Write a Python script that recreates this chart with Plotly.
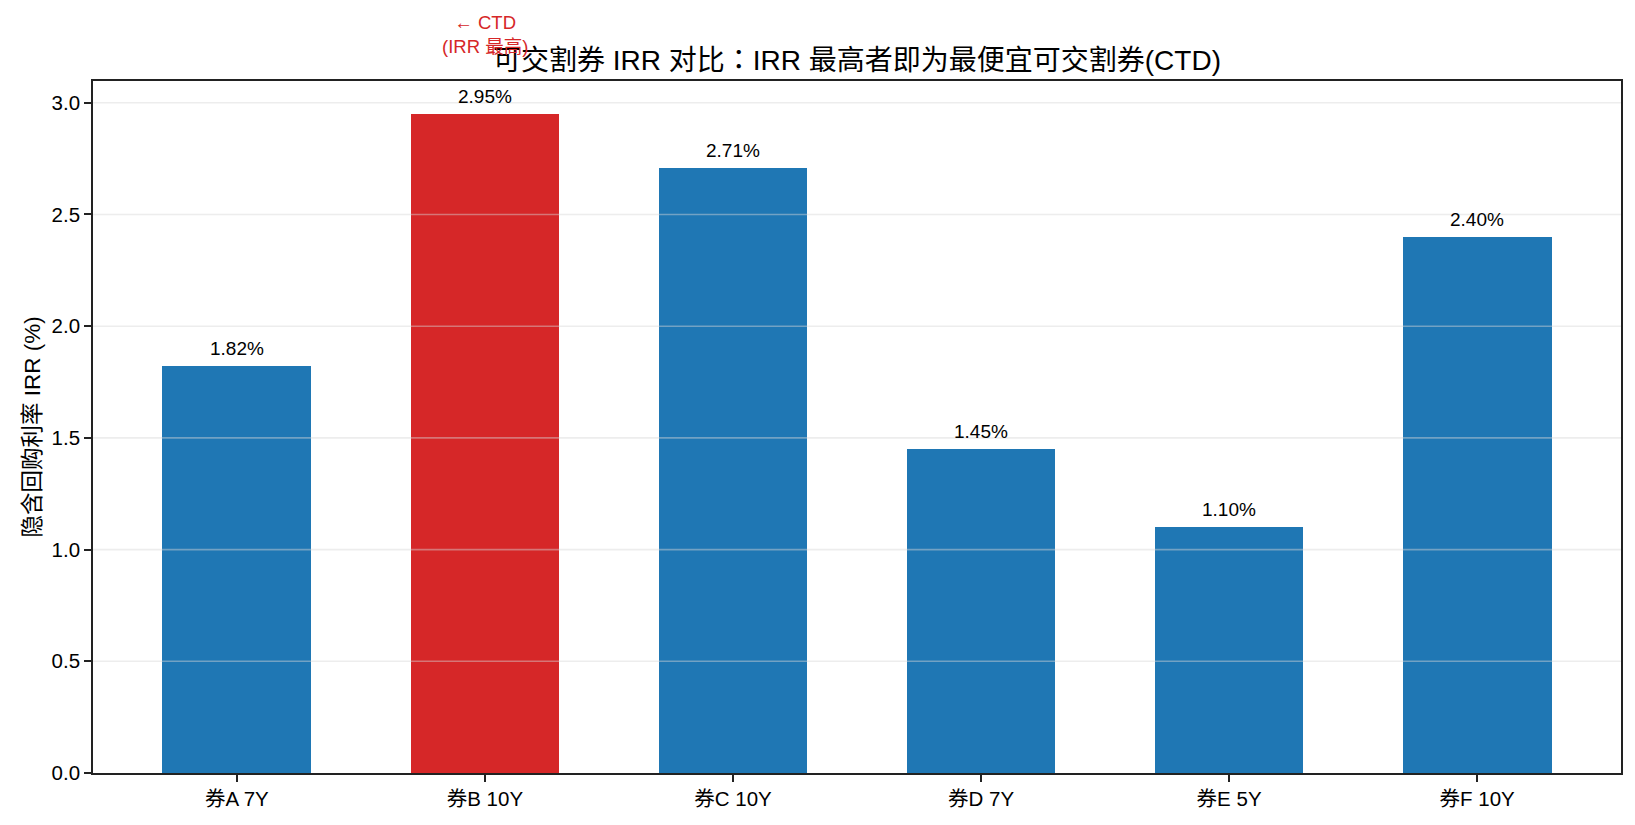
import plotly.graph_objects as go

categories = ["券A 7Y", "券B 10Y", "券C 10Y", "券D 7Y", "券E 5Y", "券F 10Y"]
irr_values = [1.82, 2.95, 2.71, 1.45, 1.10, 2.40]
bar_labels = ["1.82%", "2.95%", "2.71%", "1.45%", "1.10%", "2.40%"]
y_ticks = [0.0, 0.5, 1.0, 1.5, 2.0, 2.5, 3.0]
ctd_index = 1

BLUE = "#1f77b4"
RED = "#d62728"
FONT = "Liberation Sans, Arial, Noto Sans CJK SC, sans-serif"

colors = [RED if i == ctd_index else BLUE for i in range(len(categories))]
xpos = list(range(len(categories)))

fig = go.Figure()
fig.add_trace(go.Bar(
    x=xpos, y=irr_values, width=0.6,
    marker=dict(color=colors, line=dict(width=0)),
    showlegend=False, hoverinfo="skip",
))

# value labels above bars
for xi, yi, lab in zip(xpos, irr_values, bar_labels):
    fig.add_annotation(x=xi, y=yi, text=lab, showarrow=False,
                       yanchor="bottom", yshift=5,
                       font=dict(size=19, color="black", family=FONT))

# CTD annotation
fig.add_annotation(x=ctd_index, y=1.0675, xref="x", yref="paper",
                   text="← CTD<br>(IRR 最高)", showarrow=False,
                   yanchor="middle", align="center",
                   font=dict(size=18.5, color=RED, family=FONT))

# gridlines drawn above bars (as in reference)
for t in y_ticks[1:]:
    fig.add_shape(type="line", xref="paper", yref="y", x0=0, x1=1, y0=t, y1=t,
                  line=dict(color="rgba(215,215,215,0.45)", width=1.6),
                  layer="above")

axis_common = dict(showline=True, linecolor="#222222", linewidth=1.7, mirror=True,
                   ticks="outside", ticklen=7, tickwidth=1.7, tickcolor="#222222",
                   tickfont=dict(size=20.5, color="black", family=FONT),
                   showgrid=False, zeroline=False)

title_text = ("可交割券 IRR 对比"
              "<span style=\"font-family:'Noto Sans CJK JP'\">：</span>"
              "IRR 最高者即为最便宜可交割券(CTD)")

fig.update_layout(
    width=1635, height=825,
    margin=dict(l=93, r=14, t=81, b=52),
    paper_bgcolor="white", plot_bgcolor="white",
    font=dict(family=FONT, color="black"),
    title=dict(text=title_text,
               x=0.5, xref="paper", xanchor="center",
               y=1 - 60 / 825, yref="container", yanchor="middle",
               font=dict(size=28, color="black", family=FONT)),
    xaxis=dict(range=[-0.58, 5.58], tickmode="array", tickvals=xpos, ticktext=categories,
               **axis_common),
    yaxis=dict(range=[0, 3.0975], tickmode="array", tickvals=y_ticks,
               ticktext=[f"{t:.1f}" for t in y_ticks],
               title=dict(text="隐含回购利率 IRR (%)", standoff=5,
                          font=dict(size=22.5, color="black", family=FONT)),
               **axis_common),
    bargap=0,
)

fig.write_html("out.html")
